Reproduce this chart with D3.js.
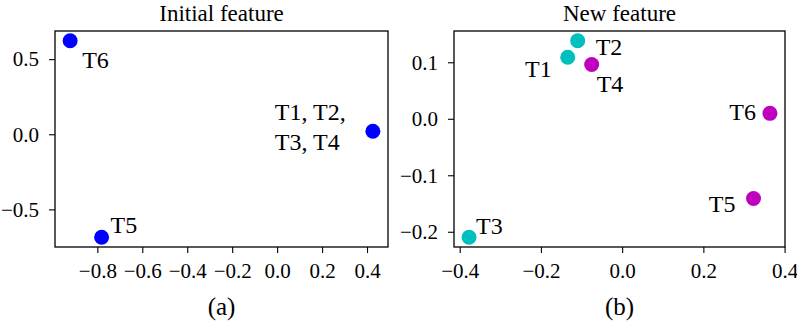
<!DOCTYPE html>
<html>
<head>
<meta charset="utf-8">
<script src="https://cdn.jsdelivr.net/npm/d3@7"></script>
<style>
  body { margin: 0; background: #fff; }
  svg, svg text { font-family: "Liberation Serif", "Times New Roman", Tinos, "Nimbus Roman", "DejaVu Serif", serif !important; }
</style>
</head>
<body>
<svg id="chart" width="797" height="322" font-family="Liberation Serif, serif"></svg>
<script>
// ---- data ----
var initNames = ["T6", "T5", "T1, T2,|T3, T4"];
var initX = [-0.921, -0.781, 0.426];
var initY = [0.622, -0.685, 0.020];

var newNames = ["T1", "T2", "T3", "T4", "T5", "T6"];
var newX = [-0.134, -0.1095, -0.377, -0.075, 0.3235, 0.364];
var newY = [0.109, 0.138, -0.2096, 0.096, -0.141, 0.0096];
var newGroup = [0, 0, 0, 1, 1, 1];

var initXTicks = [-0.8, -0.6, -0.4, -0.2, 0.0, 0.2, 0.4];
var initYTicks = [-0.5, 0.0, 0.5];
var newXTicks = [-0.4, -0.2, 0.0, 0.2, 0.4];
var newYTicks = [-0.2, -0.1, 0.0, 0.1];

var titles = ["Initial feature", "New feature"];
var captions = ["(a)", "(b)"];

// ---- drawing ----
var groupColor = ["#00bfbf", "#bf00bf"];
var svg = d3.select("#chart");
var top_ = 31, bottom_ = 247;

function padded(vals) {
	var e = d3.extent(vals), p = (e[1] - e[0]) * 0.05;
	return [e[0] - p, e[1] + p];
}

function panel(left, right, xs, ys, xt, yt, title, caption) {
	var x = d3.scaleLinear().domain(padded(xs)).range([left, right]);
	var y = d3.scaleLinear().domain(padded(ys)).range([bottom_, top_]);
	var fmt = d3.format(".1f");

	var gx = svg.append("g")
		.attr("transform", "translate(0," + bottom_ + ")")
		.call(d3.axisBottom(x).tickValues(xt).tickFormat(fmt).tickSize(6).tickPadding(10).tickSizeOuter(0));
	var gy = svg.append("g")
		.attr("transform", "translate(" + left + ",0)")
		.call(d3.axisLeft(y).tickValues(yt).tickFormat(fmt).tickSize(6).tickPadding(10).tickSizeOuter(0));
	[gx, gy].forEach(function(g) {
		g.attr("font-family", null).attr("font-size", null);
		g.select(".domain").remove();
		g.selectAll("line").attr("stroke", "#000").attr("stroke-width", 1.1);
		g.selectAll("text").style("font-size", "21px").attr("fill", "#000");
	});

	svg.append("rect")
		.attr("x", left).attr("y", top_)
		.attr("width", right - left).attr("height", bottom_ - top_)
		.attr("fill", "none").attr("stroke", "#000").attr("stroke-width", 1.3);

	svg.append("text")
		.attr("x", (left + right) / 2).attr("y", 20.5)
		.attr("text-anchor", "middle").style("font-size", "23px")
		.text(title);
	svg.append("text")
		.attr("x", (left + right) / 2).attr("y", 315)
		.attr("text-anchor", "middle").style("font-size", "25px")
		.text(caption);

	return {x: x, y: y};
}

// panel (a)
var a = panel(55, 388, initX, initY, initXTicks, initYTicks, titles[0], captions[0]);
var aOff = [[12, 27, "start"], [9, -4, "start"], [-98, -11, "start"]];
initNames.forEach(function(n, i) {
	svg.append("circle")
		.attr("cx", a.x(initX[i])).attr("cy", a.y(initY[i]))
		.attr("r", 7.5).attr("fill", "#0000ff");
	var t = svg.append("text")
		.attr("x", a.x(initX[i]) + aOff[i][0])
		.attr("y", a.y(initY[i]) + aOff[i][1])
		.attr("text-anchor", aOff[i][2])
		.style("font-size", "24px");
	n.split("|").forEach(function(line, j) {
		t.append("tspan")
			.attr("x", a.x(initX[i]) + aOff[i][0])
			.attr("dy", j === 0 ? 0 : 30)
			.text(line);
	});
});

// panel (b)
var b = panel(454, 785, newX, newY, newXTicks, newYTicks, titles[1], captions[1]);
var bOff = [[-16, 20, "end"], [18, 14, "start"], [7, -3, "start"], [5, 27, "start"], [-18, 14, "end"], [-14, 7, "end"]];
newNames.forEach(function(n, i) {
	svg.append("circle")
		.attr("cx", b.x(newX[i])).attr("cy", b.y(newY[i]))
		.attr("r", 7.5).attr("fill", groupColor[newGroup[i]]);
	svg.append("text")
		.attr("x", b.x(newX[i]) + bOff[i][0])
		.attr("y", b.y(newY[i]) + bOff[i][1])
		.attr("text-anchor", bOff[i][2])
		.style("font-size", "24px")
		.text(n);
});
</script>
</body>
</html>
